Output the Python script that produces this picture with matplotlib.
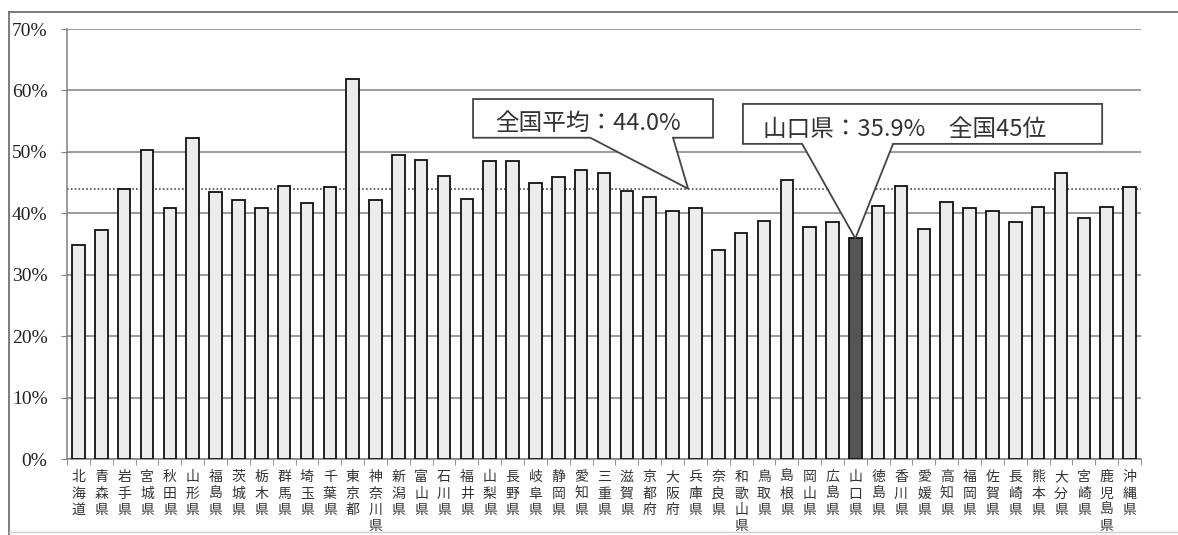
import matplotlib
matplotlib.use("Agg")
import matplotlib.pyplot as plt
from matplotlib.patches import Polygon
from matplotlib.lines import Line2D
import numpy as np

# 都道府県別の割合（%）
prefectures = [
    "北海道", "青森県", "岩手県", "宮城県", "秋田県", "山形県", "福島県",
    "茨城県", "栃木県", "群馬県", "埼玉県", "千葉県", "東京都", "神奈川県",
    "新潟県", "富山県", "石川県", "福井県", "山梨県", "長野県", "岐阜県",
    "静岡県", "愛知県", "三重県", "滋賀県", "京都府", "大阪府", "兵庫県",
    "奈良県", "和歌山県", "鳥取県", "島根県", "岡山県", "広島県", "山口県",
    "徳島県", "香川県", "愛媛県", "高知県", "福岡県", "佐賀県", "長崎県",
    "熊本県", "大分県", "宮崎県", "鹿児島県", "沖縄県",
]
rates = [
    34.8, 37.3, 43.9, 50.3, 40.9, 52.3, 43.5,
    42.2, 40.8, 44.5, 41.7, 44.2, 61.9, 42.1,
    49.5, 48.6, 46.1, 42.3, 48.5, 48.5, 44.9,
    45.9, 47.1, 46.6, 43.7, 42.7, 40.3, 40.9,
    34.0, 36.8, 38.8, 45.4, 37.7, 38.6, 35.9,
    41.2, 44.5, 37.4, 41.9, 40.8, 40.4, 38.6,
    41.0, 46.5, 39.2, 41.1, 44.3,
]
national_avg = 44.0
highlight = "山口県"
highlight_rank = 45
yticks = [0, 10, 20, 30, 40, 50, 60, 70]

JP = ["Noto Sans CJK JP", "DejaVu Sans"]

fig = plt.figure(figsize=(11.78, 5.35), dpi=100)
ax = fig.add_axes([67 / 1178, 76 / 535, 1074 / 1178, 430 / 535])

x = np.arange(len(prefectures))
hi = prefectures.index(highlight)
colors = ["#ececec"] * len(prefectures)
colors[hi] = "#555555"
ax.bar(x, rates, width=0.55, color=colors, edgecolor="#111111",
       linewidth=1.3, zorder=3)

ax.set_xlim(-0.5, len(prefectures) - 0.5)
ax.set_ylim(0, 70)

# 目盛りと格子
ax.set_yticks(yticks)
ax.set_yticklabels([f"{v}%" for v in yticks], fontfamily="Liberation Serif",
                   fontsize=14, color="#222222")
ax.yaxis.grid(True, color="#808080", linewidth=1.1, zorder=1)
ax.tick_params(axis="y", length=4, color="#808080", pad=10)

ax.set_xticks(x)
ax.set_xticklabels(["\n".join(p) for p in prefectures], fontfamily=JP,
                   fontsize=10, color="#333333", linespacing=1.22,
                   va="top")
ax.tick_params(axis="x", which="major", length=0, pad=8)
ax.set_xticks(np.arange(len(prefectures) + 1) - 0.5, minor=True)
ax.tick_params(axis="x", which="minor", length=4, color="#808080")

for s in ["top", "right"]:
    ax.spines[s].set_visible(False)
ax.spines["left"].set_color("#808080")
ax.spines["bottom"].set_color("#808080")
ax.spines["left"].set_linewidth(1.1)
ax.spines["bottom"].set_linewidth(1.1)

# 全国平均線
ax.axhline(national_avg, color="#4a4a4a", linewidth=1.2,
           linestyle=(0, (1, 1.3)), zorder=2)


def callout(x0, x1, y0, y1, b0, b1, tip):
    pts = [(x0, y0), (b0, y0), tip, (b1, y0), (x1, y0),
           (x1, y1), (x0, y1)]
    ax.add_patch(Polygon(pts, closed=True, facecolor="white",
                         edgecolor="#444444", linewidth=1.3, zorder=5,
                         clip_on=False, joinstyle="miter"))


# 全国平均の吹き出し
avg_tip_x = 26.68
callout(17.27, 27.77, 52.3, 58.6, 22.4, 26.02, (avg_tip_x, national_avg))
ax.text((17.27 + 27.77) / 2 - 0.2, 54.7, f"全国平均：{national_avg:.1f}%",
        fontfamily=JP, fontsize=17, ha="center", va="center",
        color="#333333", zorder=6)

# 山口県の吹き出し
callout(29.08, 44.8, 51.3, 57.8, 31.67, 35.65, (hi, rates[hi]))
ax.text(29.96, 53.7, f"{highlight}：{rates[hi]:.1f}%　全国{highlight_rank}位",
        fontfamily=JP, fontsize=17, ha="left", va="center",
        color="#333333", zorder=6)

# 外枠
fig.add_artist(Line2D([9 / 1178, 1.0], [1 - 12 / 535, 1 - 12 / 535],
                      color="#666666", linewidth=1.2))
fig.add_artist(Line2D([9 / 1178, 9 / 1178], [1 - 12 / 535, 0.0],
                      color="#666666", linewidth=1.2))
fig.add_artist(Line2D([9 / 1178, 1.0], [1 - 532 / 535, 1 - 532 / 535],
                      color="#cccccc", linewidth=1.0))

fig.savefig("out.png", dpi=100)
